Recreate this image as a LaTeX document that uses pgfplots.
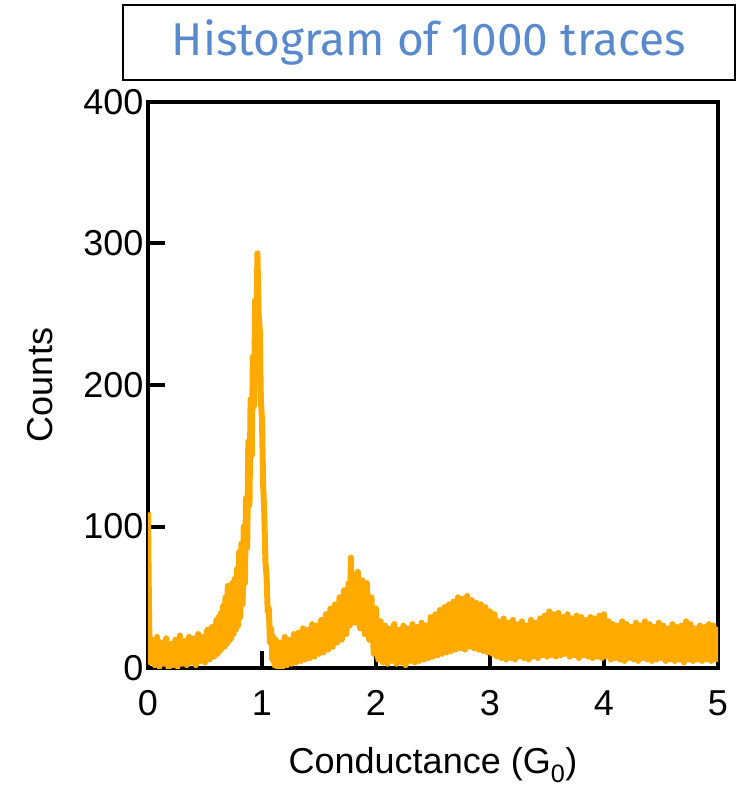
\documentclass[border=0pt]{standalone}
\usepackage{fontspec}
\setmainfont{Liberation Sans}
\newfontfamily\titlefont{Fira Sans}
\usepackage{pgfplots}
\pgfplotsset{compat=1.18}
\definecolor{hist}{RGB}{255,170,0}
\definecolor{titleblue}{RGB}{90,138,206}
\pgfplotstableread{
x y
0.00 110
0.01 30
0.02 4
0.04 20
0.06 2
0.08 22
0.10 1
0.12 18
0.14 3
0.16 21
0.18 0
0.20 17
0.22 2
0.24 20
0.26 1
0.28 23
0.30 3
0.32 19
0.34 2
0.36 22
0.38 4
0.40 21
0.42 2
0.44 24
0.46 5
0.48 22
0.50 4
0.52 27
0.54 6
0.56 29
0.58 8
0.60 34
0.61 10
0.62 36
0.63 12
0.64 39
0.65 14
0.66 44
0.67 15
0.68 50
0.69 17
0.70 58
0.71 19
0.72 56
0.73 21
0.74 60
0.75 24
0.76 63
0.77 27
0.78 70
0.79 30
0.80 82
0.81 36
0.82 88
0.83 45
0.84 100
0.85 60
0.86 120
0.87 85
0.88 160
0.89 115
0.90 190
0.91 150
0.92 220
0.93 185
0.94 260
0.95 230
0.96 293
0.97 250
0.98 240
0.99 190
1.00 175
1.01 130
1.02 110
1.03 75
1.04 65
1.05 40
1.06 42
1.07 18
1.08 28
1.09 6
1.10 22
1.11 2
1.12 20
1.14 0
1.16 18
1.18 1
1.20 22
1.22 2
1.24 20
1.26 3
1.28 24
1.30 4
1.32 25
1.34 5
1.36 28
1.38 6
1.40 27
1.42 7
1.44 31
1.46 8
1.48 30
1.50 10
1.52 34
1.54 11
1.56 38
1.58 13
1.60 42
1.62 15
1.64 45
1.66 18
1.68 50
1.70 20
1.72 55
1.74 24
1.76 60
1.77 30
1.78 78
1.79 35
1.80 66
1.82 32
1.84 68
1.86 28
1.88 62
1.90 24
1.92 60
1.94 20
1.96 50
1.98 10
2.00 42
2.02 6
2.04 33
2.06 4
2.08 30
2.10 3
2.12 28
2.14 5
2.16 31
2.18 3
2.20 27
2.22 4
2.24 30
2.26 2
2.28 28
2.30 5
2.32 31
2.34 4
2.36 29
2.38 5
2.40 32
2.42 6
2.44 30
2.46 7
2.48 36
2.50 8
2.52 38
2.54 9
2.56 41
2.58 10
2.60 43
2.62 11
2.64 45
2.66 12
2.68 47
2.70 13
2.72 50
2.74 14
2.76 49
2.78 13
2.80 51
2.82 15
2.84 48
2.86 14
2.88 46
2.90 13
2.92 45
2.94 12
2.96 43
2.98 11
3.00 40
3.02 10
3.04 38
3.06 8
3.08 33
3.10 7
3.12 35
3.14 6
3.16 32
3.18 7
3.20 34
3.22 6
3.24 31
3.26 8
3.28 33
3.30 7
3.32 30
3.34 6
3.36 34
3.38 8
3.40 32
3.42 7
3.44 35
3.46 9
3.48 37
3.50 8
3.52 40
3.54 9
3.56 38
3.58 8
3.60 39
3.62 9
3.64 36
3.66 10
3.68 38
3.70 8
3.72 35
3.74 9
3.76 37
3.78 7
3.80 36
3.82 9
3.84 34
3.86 8
3.88 36
3.90 7
3.92 35
3.94 8
3.96 37
3.98 7
4.00 38
4.02 8
4.04 33
4.06 6
4.08 31
4.10 7
4.12 30
4.14 6
4.16 33
4.18 5
4.20 31
4.22 7
4.24 29
4.26 6
4.28 32
4.30 5
4.32 30
4.34 7
4.36 33
4.38 6
4.40 31
4.42 5
4.44 29
4.46 6
4.48 32
4.50 7
4.52 30
4.54 5
4.56 28
4.58 6
4.60 31
4.62 5
4.64 29
4.66 6
4.68 30
4.70 4
4.72 33
4.74 6
4.76 31
4.78 5
4.80 28
4.82 6
4.84 30
4.86 5
4.88 29
4.90 6
4.92 31
4.94 5
4.96 30
4.98 6
5.00 29
}\histdata
\begin{document}
\begin{tikzpicture}
\begin{axis}[
  at={(0,0)}, anchor=south west,
  scale only axis,
  width=570bp, height=566bp,
  xmin=0, xmax=5, ymin=0, ymax=400,
  xtick={0,1,2,3,4,5},
  ytick={0,100,200,300,400},
  tick pos=left,
  tick align=inside,
  major tick length=17bp,
  every tick/.style={black, line width=4bp},
  axis line style={line width=4bp},
  /pgf/number format/assume math mode=true,
  tick label style={font=\fontsize{36bp}{40bp}\selectfont},
  xticklabel style={yshift=-19bp},
  yticklabel style={xshift=-1bp},
  label style={font=\fontsize{36bp}{40bp}\selectfont},
  xlabel={Conductance (G\textsubscript{0})},
  ylabel={Counts},
  xlabel style={at={(axis description cs:0.5,-0.171)}, anchor=center},
  ylabel style={at={(axis description cs:-0.19,0.5)}, anchor=center},
  clip=true,
]
\addplot[color=hist, line width=6bp, line join=round] table[x=x,y=y] {\histdata};
\end{axis}
\node[draw=black, line width=1.5bp, minimum width=612bp, minimum height=75bp,
      inner sep=0pt, text=titleblue, font=\titlefont\fontsize{46bp}{50bp}\selectfont]
      at (281bp,625.5bp) {Histogram of 1000 traces};
\pgfresetboundingbox
\path[use as bounding box] (-148bp,-122bp) rectangle (589bp,668bp);
\end{tikzpicture}
\end{document}
